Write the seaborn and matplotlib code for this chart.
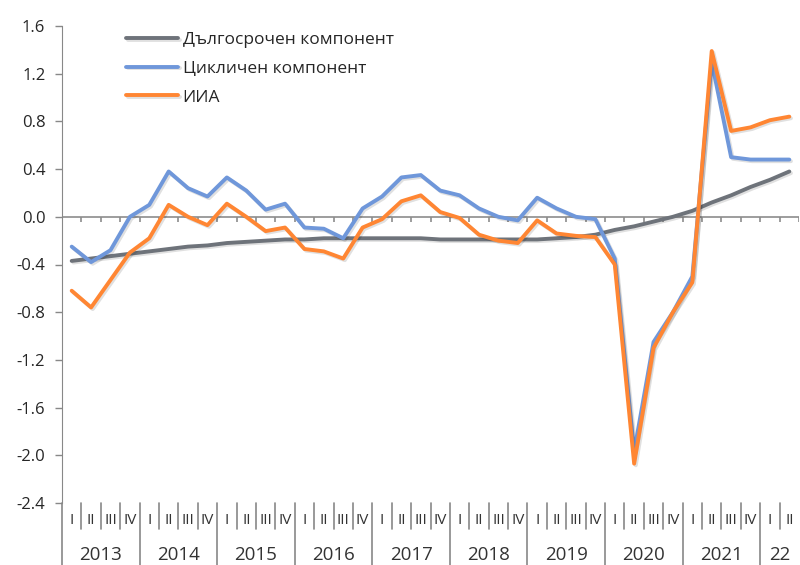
import numpy as np
import pandas as pd
import seaborn as sns
import matplotlib.pyplot as plt
import matplotlib.patheffects as pe

years = ['2013', '2014', '2015', '2016', '2017', '2018', '2019', '2020', '2021', '22']
quarter_names = ['I', 'II', 'III', 'IV']
n_quarters = 38

long_term = [-0.37, -0.35, -0.33, -0.31, -0.29, -0.27, -0.25, -0.24, -0.22, -0.21,
             -0.20, -0.19, -0.19, -0.18, -0.18, -0.18, -0.18, -0.18, -0.18, -0.19,
             -0.19, -0.19, -0.19, -0.19, -0.19, -0.18, -0.17, -0.15, -0.11, -0.08,
             -0.04, 0.00, 0.05, 0.12, 0.18, 0.25, 0.31, 0.38]
cyclical = [-0.25, -0.38, -0.28, 0.00, 0.10, 0.38, 0.24, 0.17, 0.33, 0.22,
            0.06, 0.11, -0.09, -0.10, -0.18, 0.07, 0.17, 0.33, 0.35, 0.22,
            0.18, 0.07, 0.00, -0.03, 0.16, 0.07, 0.00, -0.02, -0.35, -1.97,
            -1.05, -0.80, -0.50, 1.30, 0.50, 0.48, 0.48, 0.48]
iia = [-0.62, -0.76, -0.53, -0.30, -0.18, 0.10, 0.00, -0.07, 0.11, 0.00,
       -0.12, -0.09, -0.27, -0.29, -0.35, -0.09, -0.02, 0.13, 0.18, 0.04,
       -0.01, -0.15, -0.20, -0.22, -0.03, -0.14, -0.16, -0.17, -0.40, -2.07,
       -1.10, -0.80, -0.55, 1.39, 0.72, 0.75, 0.81, 0.84]

labels = ['Дългосрочен компонент', 'Цикличен компонент', 'ИИА']
colors = ['#6E737A', '#6F97DA', '#FF8633']
yticks = [-2.4, -2.0, -1.6, -1.2, -0.8, -0.4, 0.0, 0.4, 0.8, 1.2, 1.6]

sns.set_style('white')
plt.rcParams['font.family'] = ['Open Sans', 'DejaVu Sans']

df = pd.DataFrame({'q': np.arange(n_quarters) + 0.5,
                   labels[0]: long_term, labels[1]: cyclical, labels[2]: iia})
df = df.melt(id_vars='q', var_name='series', value_name='value')

fig = plt.figure(figsize=(8, 5.65), dpi=100)
ax = fig.add_axes([62 / 800, 1 - 503 / 565, 737 / 800, 477 / 565])

sns.lineplot(data=df, x='q', y='value', hue='series', hue_order=labels,
             palette=colors, linewidth=2.8, ax=ax)
for line in ax.lines:
    line.set_path_effects([pe.SimpleLineShadow(offset=(1.2, -1.2), alpha=0.12, shadow_color='black'),
                           pe.Normal()])

ax.set_xlim(0, n_quarters)
ax.set_ylim(-2.4, 1.6)
ax.set_yticks(yticks)
ax.set_yticklabels([f'{v:.1f}' for v in yticks], fontsize=12, color='#262626')
ax.set_xticks([])
ax.set_xlabel('')
ax.set_ylabel('')
for s in ['top', 'right', 'bottom']:
    ax.spines[s].set_visible(False)
ax.spines['left'].set_color('#888888')
ax.tick_params(axis='y', length=5, width=1, color='#888888', left=True, pad=7)

# zero line with quarter ticks
ax.axhline(0, color='#8C8C8C', lw=1.2, zorder=1)
bounds = np.arange(1, n_quarters + 1)
ax.vlines(bounds, -0.045, 0, color='#8C8C8C', lw=1.2, zorder=1)

# category axis below the plot
tr = ax.get_xaxis_transform()
for j in range(n_quarters + 1):
    if j % 4 == 0:
        ax.plot([j, j], [0, -0.130], transform=tr, color='#888888', lw=1.2, clip_on=False)
    elif j < n_quarters:
        ax.plot([j, j], [0, -0.055], transform=tr, color='#888888', lw=1.2, clip_on=False)
for k in range(n_quarters):
    ax.text(k + 0.5, -0.036, quarter_names[k % 4], transform=tr, ha='center', va='center',
            fontsize=11, color='#333333')
for i, y in enumerate(years):
    end = min(4 * i + 4, n_quarters)
    ax.text((4 * i + end) / 2, -0.109, y, transform=tr, ha='center', va='center',
            fontsize=13.5, color='#333333')

ax.legend(loc='upper left', bbox_to_anchor=(0.066, 1.02), frameon=False, fontsize=12.5,
          handlelength=3.0, handletextpad=0.25, labelspacing=0.72)

fig.savefig('out.png', dpi=100)
